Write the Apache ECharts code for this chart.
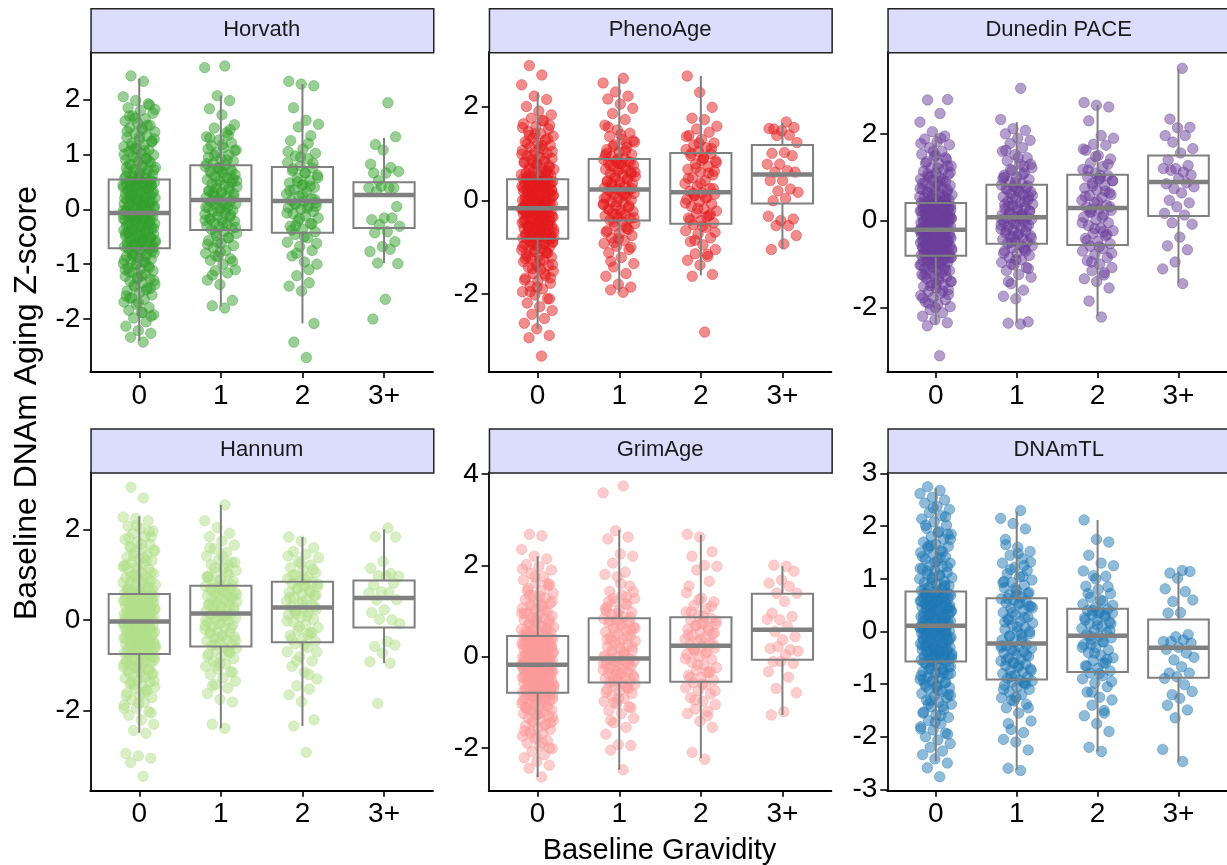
<!DOCTYPE html>
<html><head><meta charset="utf-8">
<script src="https://cdn.jsdelivr.net/npm/echarts@6/dist/echarts.min.js"></script>
<style>html,body{margin:0;padding:0;background:#fff}#c{width:1227px;height:865px}</style>
</head><body><div id="c"></div>
<script>
// ---------------- DATA ----------------
const categories = ['0', '1', '2', '3+'];
const facetNames = ['Horvath', 'PhenoAge', 'Dunedin PACE', 'Hannum', 'GrimAge', 'DNAmTL'];
const facetColors = ['#33a02c', '#e31a1c', '#6a3d9a', '#b2df8a', '#fb9a99', '#1f78b4'];
const xTitle = 'Baseline Gravidity';
const yTitle = 'Baseline DNAm Aging Z-score';
const yTicks = [[-2,-1,0,1,2],[-2,0,2],[-2,0,2],[-2,0,2],[-2,0,2,4],[-3,-2,-1,0,1,2,3]];
const yLimits = [[-2.965,2.865],[-3.66,3.16],[-3.485,3.885],[-3.77,3.27],[-2.94,4.04],[-3.025,3.025]];

// box stats per group: [lower whisker, Q1, median, Q3, upper whisker]
const horvathBox = [[-2.40,-0.71,-0.07,0.54,2.38],[-1.77,-0.38,0.17,0.80,2.07],[-2.08,-0.43,0.15,0.77,2.28],[-0.98,-0.34,0.26,0.49,1.30]];
const phenoBox   = [[-2.74,-0.82,-0.17,0.45,2.30],[-1.96,-0.43,0.23,0.88,2.60],[-1.60,-0.50,0.17,1.01,2.65],[-1.04,-0.07,0.55,1.18,1.65]];
const dunedinBox = [[-2.39,-0.81,-0.21,0.41,2.00],[-2.35,-0.53,0.08,0.83,2.27],[-2.20,-0.56,0.29,1.06,2.66],[-1.44,0.11,0.89,1.50,3.49]];
const hannumBox  = [[-2.49,-0.75,-0.03,0.58,2.30],[-2.39,-0.58,0.15,0.76,2.55],[-2.34,-0.49,0.28,0.85,1.84],[-0.95,-0.16,0.49,0.88,2.01]];
const grimBox    = [[-2.64,-0.79,-0.18,0.45,2.20],[-2.48,-0.57,-0.04,0.84,2.78],[-2.23,-0.55,0.24,0.86,2.67],[-1.28,-0.07,0.59,1.38,1.98]];
const dnamtlBox  = [[-2.47,-0.57,0.11,0.76,2.73],[-2.63,-0.91,-0.23,0.63,2.28],[-2.28,-0.77,-0.08,0.43,2.12],[-2.47,-0.88,-0.31,0.23,1.14]];

// Horvath points
const horvath0 = [-2.42,-2.33,-2.26,-2.21,-2.13,-2.05,-1.98,-1.92,-1.88,-1.84,-1.79,-1.73,-1.69,-1.64,-1.61,-1.56,-1.52,-1.49,-1.44,-1.41,-1.37,-1.34,-1.31,-1.27,-1.24,-1.22,-1.18,-1.15,-1.12,-1.09,-1.07,-1.04,-1.01,-0.99,-0.96,-0.94,-0.91,-0.88,-0.86,-0.84,-0.81,-0.79,-0.77,-0.74,-0.72,
 -0.7,-0.68,-0.67,-0.65,-0.64,-0.62,-0.61,-0.59,-0.58,-0.57,-0.55,-0.54,-0.52,-0.51,-0.49,-0.48,-0.46,-0.45,-0.43,-0.42,-0.41,-0.39,-0.38,-0.36,-0.35,-0.33,-0.32,-0.3,-0.29,-0.27,-0.26,-0.24,-0.23,-0.21,-0.2,-0.19,-0.17,-0.16,-0.14,-0.13,-0.12,-0.11,-0.1,-0.09,-0.08,
 -0.06,-0.05,-0.03,-0.02,0,0.01,0.03,0.04,0.06,0.07,0.08,0.1,0.11,0.13,0.14,0.16,0.17,0.18,0.2,0.21,0.23,0.24,0.26,0.27,0.28,0.3,0.31,0.33,0.34,0.35,0.37,0.38,0.4,0.41,0.42,0.44,0.45,0.46,0.47,0.48,0.49,0.5,0.51,0.52,0.53,
 0.56,0.58,0.61,0.63,0.66,0.68,0.71,0.73,0.76,0.79,0.81,0.84,0.87,0.9,0.93,0.96,0.99,1.02,1.05,1.08,1.11,1.14,1.17,1.2,1.24,1.27,1.31,1.34,1.38,1.41,1.45,1.49,1.53,1.57,1.61,1.65,1.7,1.75,1.8,1.85,1.92,1.98,2.05,2.33,2.43];
const horvath0b = [-1.95,-1.71,-1.58,-1.47,-1.38,-1.3,-1.21,-1.14,-1.06,-0.99,-0.93,-0.87,-0.82,-0.76,-0.73,-0.69,-0.66,-0.63,-0.6,-0.56,-0.53,-0.5,-0.47,-0.44,-0.4,-0.37,-0.34,-0.31,-0.28,-0.25,-0.22,-0.18,-0.15,-0.12,-0.09,-0.06,-0.04,-0.01,0.02,0.05,0.08,0.11,0.14,0.17,0.2,0.23,0.26,0.29,0.32,0.35,0.38,0.41,0.44,0.47,0.5,0.53,0.57,0.6,0.64,0.68,0.72,0.77,0.82,0.88,0.94,1.0,1.07,1.15,1.23,1.32,1.42,1.53,1.66,1.82,
 -1.88,-1.62,-1.44,-1.26,-1.1,-0.97,-0.85,-0.7,-0.58,-0.43,-0.29,-0.16,-0.02,0.12,0.27,0.43,0.59,0.75,0.92,1.1,1.28,1.48,1.7,1.9];
const horvath1 = [-1.8,-1.76,-1.66,-1.37,-1.29,-1.16,-1.12,-1.1,-1.0,-0.93,-0.9,-0.86,-0.8,-0.75,-0.7,-0.66,-0.62,-0.57,-0.52,-0.48,-0.44,-0.4,
 -0.37,-0.35,-0.32,-0.3,-0.27,-0.25,-0.22,-0.2,-0.17,-0.14,-0.12,-0.09,-0.07,-0.04,-0.02,0.01,0.03,0.05,0.08,0.1,0.12,0.14,0.16,
 0.18,0.21,0.23,0.26,0.28,0.31,0.33,0.36,0.38,0.41,0.44,0.46,0.49,0.52,0.54,0.57,0.6,0.63,0.66,0.69,0.72,0.75,0.78,
 0.81,0.84,0.88,0.92,0.95,0.99,1.03,1.08,1.12,1.16,1.21,1.26,1.32,1.4,1.48,1.54,1.72,1.83,1.98,2.07,2.58,2.61];
const horvath1b = [-1.2,-0.95,-0.78,-0.64,-0.52,-0.42,-0.33,-0.25,-0.18,-0.1,-0.03,0.04,0.1,0.16,0.22,0.28,0.34,0.4,0.46,0.52,0.58,0.64,0.7,0.76,0.83,0.9,0.98,1.07,1.18,1.3,1.45,-0.6,-0.2,0.0,0.3,0.55,0.72,1.1,1.35,-0.85];
const horvath2 = [-2.7,-2.42,-2.08,-1.49,-1.4,-1.34,-1.21,-1.0,-0.96,-0.85,-0.75,-0.68,-0.6,-0.52,-0.46,
 -0.41,-0.36,-0.31,-0.26,-0.21,-0.16,-0.12,-0.08,-0.04,0,0.03,0.06,0.09,0.12,0.14,
 0.16,0.2,0.24,0.28,0.32,0.36,0.4,0.44,0.48,0.52,0.57,0.62,0.66,0.7,0.75,
 0.79,0.85,0.92,0.97,1.02,1.1,1.25,1.34,1.5,1.55,1.62,1.85,2.25,2.28,2.33];
const horvath2b = [-1.1,-0.8,-0.62,-0.5,-0.38,-0.27,-0.17,-0.07,0.02,0.1,0.18,0.26,0.34,0.42,0.5,0.58,0.66,0.74,0.84,0.95,1.05,1.2,-0.3,0.05,0.45];
const horvath3 = [1.94,1.18,1.32,1.08,0.82,0.76,0.52,0.69,0.66,0.66,0.39,0.42,0.39,0.39,0.33,0.05,-0.16,-0.19,-0.16,-0.28,-0.31,-0.41,-0.43,-0.59,-0.68,-0.77,-0.73,-0.98,-0.99,-1.64,-2.0];

// PhenoAge points
const pheno0 = [-3.32,-2.93,-2.88,-2.74,-2.62,-2.52,-2.43,-2.35,-2.27,-2.19,-2.1,-2.02,-1.95,-1.89,-1.83,-1.77,-1.71,-1.66,-1.61,-1.56,-1.51,-1.47,-1.43,-1.39,-1.35,-1.31,-1.27,-1.24,-1.21,-1.18,-1.15,-1.12,-1.09,-1.06,-1.04,-1.01,-0.99,-0.96,-0.94,-0.92,-0.9,-0.88,-0.86,-0.84,-0.83,
 -0.81,-0.8,-0.78,-0.77,-0.75,-0.74,-0.72,-0.71,-0.69,-0.68,-0.66,-0.65,-0.63,-0.62,-0.6,-0.59,-0.57,-0.56,-0.54,-0.53,-0.51,-0.5,-0.48,-0.47,-0.45,-0.44,-0.42,-0.41,-0.39,-0.38,-0.36,-0.35,-0.33,-0.32,-0.3,-0.29,-0.27,-0.26,-0.24,-0.23,-0.22,-0.21,-0.2,-0.19,-0.18,
 -0.16,-0.15,-0.13,-0.12,-0.1,-0.09,-0.08,-0.06,-0.05,-0.03,-0.02,0,0.01,0.03,0.04,0.05,0.07,0.08,0.1,0.11,0.13,0.14,0.15,0.17,0.18,0.2,0.21,0.22,0.24,0.25,0.27,0.28,0.3,0.31,0.32,0.34,0.35,0.36,0.38,0.39,0.4,0.41,0.42,0.43,0.44,
 0.46,0.48,0.5,0.53,0.55,0.58,0.6,0.63,0.66,0.68,0.71,0.74,0.77,0.8,0.83,0.86,0.89,0.92,0.95,0.99,1.02,1.06,1.09,1.13,1.17,1.21,1.25,1.29,1.33,1.37,1.42,1.47,1.52,1.57,1.63,1.69,1.75,1.82,1.9,2.0,2.15,2.22,2.46,2.67,2.87];
const pheno0b = [-2.1,-1.85,-1.7,-1.57,-1.46,-1.37,-1.28,-1.2,-1.12,-1.05,-0.99,-0.93,-0.88,-0.82,-0.78,-0.74,-0.7,-0.66,-0.62,-0.59,-0.55,-0.52,-0.48,-0.45,-0.41,-0.38,-0.34,-0.31,-0.27,-0.24,-0.2,-0.17,-0.14,-0.11,-0.07,-0.04,-0.01,0.02,0.06,0.09,0.12,0.16,0.19,0.23,0.26,0.29,0.33,0.36,0.4,0.43,0.47,0.51,0.55,0.6,0.65,0.7,0.76,0.82,0.89,0.96,1.04,1.12,1.21,1.31,1.42,1.55,1.7,
 -1.95,-1.65,-1.42,-1.24,-1.08,-0.95,-0.8,-0.68,-0.57,-0.43,-0.3,-0.18,-0.05,0.08,0.21,0.35,0.49,0.63,0.8,0.98,1.17,1.38,1.6,-0.6,-0.25,0.15,0.3,-0.9,-0.45,0.0,0.55];
const pheno1 = [-1.96,-1.91,-1.85,-1.79,-1.62,-1.56,-1.42,-1.35,-1.22,-1.12,-1.05,-0.98,-0.92,-0.86,-0.8,-0.75,-0.7,-0.65,-0.6,-0.55,-0.5,-0.46,
 -0.42,-0.39,-0.36,-0.33,-0.3,-0.27,-0.24,-0.21,-0.18,-0.15,-0.12,-0.09,-0.06,-0.03,0,0.03,0.06,0.09,0.12,0.15,0.18,0.2,0.22,
 0.24,0.27,0.3,0.33,0.36,0.39,0.42,0.45,0.48,0.51,0.54,0.57,0.6,0.63,0.66,0.69,0.72,0.75,0.78,0.8,0.82,0.84,0.87,
 0.9,0.94,0.98,1.03,1.08,1.13,1.18,1.24,1.3,1.36,1.43,1.5,1.6,1.72,1.85,1.96,2.05,2.16,2.22,2.31,2.5,2.6];
const pheno1b = [-1.3,-1.0,-0.82,-0.68,-0.56,-0.46,-0.37,-0.28,-0.2,-0.12,-0.04,0.04,0.11,0.18,0.25,0.32,0.39,0.46,0.53,0.6,0.67,0.74,0.81,0.88,0.96,1.05,1.15,1.27,1.4,1.56,-0.62,-0.3,-0.08,0.14,0.36,0.57,0.78,1.0,1.2,-0.9];
const pheno2 = [-2.81,-1.62,-1.58,-1.38,-1.28,-1.2,-1.14,-1.05,-0.95,-0.88,-0.8,-0.72,-0.65,-0.58,-0.52,
 -0.48,-0.43,-0.38,-0.33,-0.28,-0.23,-0.18,-0.13,-0.08,-0.03,0.02,0.06,0.1,0.13,0.16,
 0.19,0.25,0.3,0.36,0.42,0.48,0.54,0.6,0.66,0.72,0.78,0.84,0.9,0.95,0.99,
 1.04,1.08,1.12,1.18,1.22,1.3,1.38,1.45,1.52,1.58,1.72,1.75,1.98,2.3,2.65];
const pheno2b = [-1.15,-0.85,-0.68,-0.55,-0.42,-0.3,-0.18,-0.06,0.05,0.15,0.25,0.36,0.47,0.58,0.69,0.8,0.9,1.0,1.1,1.22,1.36,-0.35,0.1,0.62,0.85];
const pheno3 = [1.67,1.52,1.55,1.48,1.53,1.39,1.38,1.23,1.02,1.0,0.95,0.77,0.77,0.63,0.6,0.6,0.42,0.42,0.24,0.2,0.17,0.04,-0.01,-0.4,-0.43,-0.34,-0.54,-0.54,-0.75,-0.93,-1.05];

// Dunedin PACE points
const dunedin0 = [-3.11,-2.42,-2.35,-2.28,-2.2,-2.12,-2.05,-1.98,-1.92,-1.87,-1.82,-1.77,-1.72,-1.67,-1.63,-1.59,-1.55,-1.51,-1.47,-1.43,-1.4,-1.36,-1.33,-1.3,-1.27,-1.24,-1.21,-1.18,-1.15,-1.13,-1.1,-1.07,-1.05,-1.02,-1.0,-0.98,-0.96,-0.94,-0.92,-0.9,-0.88,-0.86,-0.85,-0.83,-0.82,
 -0.8,-0.79,-0.77,-0.76,-0.75,-0.73,-0.72,-0.71,-0.69,-0.68,-0.67,-0.65,-0.64,-0.63,-0.61,-0.6,-0.59,-0.57,-0.56,-0.55,-0.53,-0.52,-0.51,-0.49,-0.48,-0.47,-0.45,-0.44,-0.43,-0.41,-0.4,-0.39,-0.37,-0.36,-0.35,-0.33,-0.32,-0.31,-0.29,-0.28,-0.27,-0.26,-0.25,-0.23,-0.22,
 -0.2,-0.19,-0.17,-0.16,-0.15,-0.13,-0.12,-0.11,-0.09,-0.08,-0.07,-0.05,-0.04,-0.03,-0.01,0,0.01,0.03,0.04,0.05,0.07,0.08,0.09,0.11,0.12,0.13,0.15,0.16,0.17,0.19,0.2,0.21,0.23,0.24,0.25,0.27,0.28,0.3,0.31,0.33,0.34,0.36,0.37,0.39,0.4,
 0.42,0.44,0.46,0.48,0.5,0.53,0.55,0.57,0.6,0.62,0.65,0.67,0.7,0.72,0.75,0.78,0.81,0.84,0.87,0.9,0.93,0.96,0.99,1.02,1.06,1.1,1.14,1.18,1.22,1.26,1.31,1.36,1.41,1.47,1.53,1.6,1.68,1.75,1.82,1.88,1.95,2.05,2.27,2.47,2.78,2.79];
const dunedin0b = [-2.0,-1.78,-1.62,-1.5,-1.4,-1.31,-1.23,-1.15,-1.08,-1.02,-0.96,-0.9,-0.85,-0.8,-0.76,-0.72,-0.68,-0.64,-0.6,-0.57,-0.53,-0.5,-0.46,-0.43,-0.39,-0.36,-0.32,-0.29,-0.25,-0.22,-0.19,-0.16,-0.13,-0.1,-0.06,-0.03,0.0,0.03,0.06,0.1,0.13,0.16,0.2,0.23,0.27,0.3,0.34,0.38,0.42,0.46,0.5,0.55,0.6,0.66,0.72,0.79,0.86,0.94,1.02,1.11,1.21,1.32,1.45,1.6,1.78,1.9,
 -1.9,-1.7,-1.45,-1.27,-1.12,-0.98,-0.84,-0.7,-0.59,-0.48,-0.37,-0.26,-0.15,-0.04,0.08,0.19,0.31,0.44,0.58,0.74,0.9,1.08,1.26,1.5,-0.62,-0.3,0.05,0.25,-0.95,-0.41,0.52,-0.12];
const dunedin1 = [-2.38,-2.36,-2.33,-1.8,-1.74,-1.6,-1.45,-1.3,-1.24,-1.15,-1.08,-1.02,-0.96,-0.9,-0.85,-0.8,-0.75,-0.7,-0.66,-0.62,-0.58,-0.55,
 -0.52,-0.49,-0.46,-0.43,-0.4,-0.37,-0.34,-0.31,-0.28,-0.25,-0.22,-0.19,-0.16,-0.13,-0.1,-0.07,-0.04,-0.01,0.01,0.03,0.05,0.06,0.07,
 0.1,0.13,0.16,0.19,0.22,0.25,0.28,0.31,0.35,0.38,0.41,0.45,0.48,0.52,0.55,0.59,0.62,0.66,0.69,0.73,0.76,0.79,0.82,
 0.86,0.9,0.95,1.0,1.05,1.1,1.15,1.22,1.3,1.38,1.45,1.52,1.6,1.68,1.78,1.85,1.9,2.0,2.08,2.12,2.33,3.05];
const dunedin1b = [-1.4,-1.1,-0.9,-0.75,-0.62,-0.5,-0.4,-0.31,-0.22,-0.14,-0.06,0.02,0.09,0.16,0.23,0.3,0.37,0.44,0.51,0.58,0.65,0.72,0.8,0.88,0.97,1.07,1.18,1.3,1.45,1.62,-0.7,-0.36,-0.1,0.12,0.33,0.55,0.76,1.0,1.25,-1.0];
const dunedin2 = [-2.22,-1.85,-1.55,-1.4,-1.34,-1.2,-1.15,-1.08,-1.0,-0.92,-0.85,-0.78,-0.7,-0.64,-0.59,
 -0.53,-0.47,-0.41,-0.35,-0.29,-0.23,-0.17,-0.11,-0.05,0.02,0.08,0.14,0.2,0.24,0.27,
 0.31,0.36,0.42,0.47,0.53,0.58,0.64,0.7,0.75,0.81,0.86,0.92,0.97,1.01,1.04,
 1.1,1.18,1.25,1.33,1.42,1.5,1.62,1.74,1.76,1.9,1.96,2.3,2.62,2.66,2.72];
const dunedin2b = [-1.25,-0.95,-0.75,-0.6,-0.46,-0.32,-0.18,-0.05,0.08,0.2,0.32,0.44,0.56,0.68,0.8,0.92,1.04,1.16,1.3,1.48,1.65,-0.25,0.26,0.6,0.95];
const dunedin3 = [3.51,2.34,2.15,2.14,1.96,1.96,1.81,1.66,1.56,1.4,1.27,1.2,1.2,1.12,1.16,1.05,0.97,0.85,0.87,0.74,0.78,0.64,0.47,0.41,0.32,0.17,0.13,-0.05,-0.08,-0.38,-0.58,-0.67,-0.95,-1.11,-1.45];

// Hannum points
const hannum0 = [-3.45,-3.15,-3.05,-3.0,-2.95,-2.5,-2.44,-2.3,-2.2,-2.1,-2.02,-1.95,-1.88,-1.82,-1.76,-1.71,-1.66,-1.61,-1.57,-1.52,-1.48,-1.44,-1.4,-1.36,-1.32,-1.28,-1.25,-1.21,-1.18,-1.15,-1.12,-1.09,-1.06,-1.03,-1.0,-0.98,-0.95,-0.93,-0.9,-0.88,-0.86,-0.83,-0.81,-0.79,-0.77,
 -0.74,-0.72,-0.71,-0.69,-0.68,-0.66,-0.64,-0.63,-0.61,-0.6,-0.58,-0.56,-0.55,-0.53,-0.52,-0.5,-0.48,-0.47,-0.45,-0.44,-0.42,-0.4,-0.39,-0.37,-0.36,-0.34,-0.32,-0.31,-0.29,-0.28,-0.26,-0.24,-0.23,-0.21,-0.2,-0.18,-0.16,-0.15,-0.13,-0.12,-0.1,-0.08,-0.07,-0.05,-0.04,
 -0.02,-0.01,0.01,0.02,0.04,0.05,0.07,0.08,0.09,0.11,0.12,0.14,0.15,0.16,0.18,0.19,0.21,0.22,0.23,0.25,0.26,0.28,0.29,0.3,0.32,0.33,0.35,0.36,0.37,0.39,0.4,0.42,0.43,0.44,0.46,0.47,0.49,0.5,0.51,0.52,0.53,0.54,0.55,0.56,0.57,
 0.6,0.62,0.64,0.67,0.69,0.72,0.74,0.77,0.79,0.82,0.85,0.88,0.91,0.94,0.97,1.0,1.03,1.06,1.1,1.13,1.17,1.2,1.24,1.28,1.32,1.36,1.4,1.44,1.49,1.53,1.58,1.63,1.68,1.73,1.79,1.85,1.91,1.97,2.03,2.08,2.2,2.25,2.28,2.7,2.94];
const hannum0b = [-2.05,-1.83,-1.67,-1.54,-1.43,-1.34,-1.25,-1.17,-1.1,-1.03,-0.97,-0.91,-0.86,-0.81,-0.76,-0.72,-0.68,-0.64,-0.6,-0.56,-0.52,-0.48,-0.44,-0.4,-0.36,-0.32,-0.28,-0.24,-0.2,-0.16,-0.12,-0.08,-0.04,0.0,0.04,0.08,0.12,0.16,0.2,0.24,0.28,0.32,0.36,0.4,0.44,0.48,0.52,0.56,0.61,0.66,0.71,0.77,0.83,0.9,0.97,1.05,1.13,1.22,1.32,1.43,1.55,1.68,1.82,1.96,2.1,
 -1.95,-1.6,-1.38,-1.2,-1.05,-0.92,-0.78,-0.65,-0.53,-0.42,-0.3,-0.18,-0.06,0.06,0.18,0.3,0.42,0.54,0.68,0.84,1.0,1.18,1.38,1.6,1.85,-0.58,-0.22,0.1,0.35,-0.88,-0.45,0.62,-0.15];
const hannum1 = [-2.39,-2.3,-1.81,-1.75,-1.62,-1.5,-1.42,-1.35,-1.28,-1.2,-1.14,-1.08,-1.02,-0.96,-0.9,-0.85,-0.8,-0.75,-0.7,-0.66,-0.62,-0.59,
 -0.56,-0.53,-0.5,-0.46,-0.43,-0.4,-0.37,-0.33,-0.3,-0.27,-0.24,-0.2,-0.17,-0.14,-0.11,-0.08,-0.04,-0.01,0.02,0.05,0.08,0.11,0.14,
 0.17,0.2,0.22,0.25,0.28,0.3,0.33,0.36,0.38,0.41,0.44,0.46,0.49,0.52,0.54,0.57,0.6,0.62,0.65,0.68,0.7,0.73,0.75,
 0.78,0.82,0.86,0.9,0.95,1.0,1.05,1.1,1.16,1.22,1.28,1.35,1.42,1.5,1.58,1.66,1.75,1.85,1.92,2.05,2.2,2.55];
const hannum1b = [-1.45,-1.15,-0.95,-0.8,-0.67,-0.55,-0.45,-0.35,-0.26,-0.17,-0.08,0.0,0.08,0.15,0.22,0.29,0.36,0.43,0.5,0.57,0.64,0.71,0.78,0.86,0.95,1.05,1.16,1.28,1.42,1.6,-0.72,-0.38,-0.12,0.11,0.33,0.54,0.74,0.98,1.22,-1.0];
const hannum2 = [-2.92,-2.34,-2.2,-1.8,-1.65,-1.52,-1.45,-1.3,-1.15,-1.02,-0.9,-0.8,-0.7,-0.6,-0.52,
 -0.46,-0.4,-0.34,-0.28,-0.22,-0.16,-0.1,-0.04,0.02,0.07,0.12,0.17,0.21,0.24,0.27,
 0.3,0.34,0.38,0.42,0.46,0.5,0.54,0.58,0.62,0.66,0.7,0.74,0.78,0.81,0.84,
 0.88,0.92,0.96,1.0,1.05,1.1,1.16,1.22,1.3,1.38,1.46,1.52,1.6,1.75,1.84];
const hannum2b = [-1.2,-0.9,-0.7,-0.55,-0.42,-0.28,-0.15,-0.02,0.1,0.2,0.3,0.4,0.5,0.6,0.7,0.8,0.9,1.0,1.12,1.26,1.42,-0.32,0.15,0.55,0.76];
const hannum3 = [2.04,1.85,1.84,1.30,1.15,1.03,0.98,0.97,0.97,0.78,0.82,0.63,0.6,0.61,0.45,0.45,0.23,0.17,0.01,0.02,-0.08,-0.47,-0.58,-0.55,-0.73,-0.92,-0.95,-1.84];

// GrimAge points
const grim0 = [-2.64,-2.45,-2.38,-2.3,-2.22,-2.15,-2.08,-2.02,-1.96,-1.9,-1.84,-1.79,-1.74,-1.69,-1.64,-1.6,-1.56,-1.52,-1.48,-1.44,-1.41,-1.37,-1.34,-1.31,-1.28,-1.25,-1.22,-1.19,-1.16,-1.14,-1.11,-1.08,-1.06,-1.03,-1.01,-0.99,-0.96,-0.94,-0.92,-0.9,-0.88,-0.86,-0.84,-0.82,-0.8,
 -0.78,-0.77,-0.75,-0.74,-0.72,-0.71,-0.69,-0.68,-0.67,-0.65,-0.64,-0.62,-0.61,-0.59,-0.58,-0.56,-0.55,-0.53,-0.52,-0.5,-0.49,-0.47,-0.46,-0.45,-0.43,-0.42,-0.4,-0.39,-0.37,-0.36,-0.34,-0.33,-0.31,-0.3,-0.28,-0.27,-0.26,-0.25,-0.24,-0.23,-0.22,-0.21,-0.2,-0.19,-0.19,
 -0.17,-0.15,-0.14,-0.12,-0.11,-0.1,-0.08,-0.07,-0.05,-0.04,-0.02,-0.01,0.01,0.02,0.03,0.05,0.06,0.08,0.09,0.1,0.12,0.13,0.15,0.16,0.17,0.19,0.2,0.22,0.23,0.24,0.26,0.27,0.29,0.3,0.31,0.33,0.34,0.35,0.37,0.38,0.39,0.4,0.42,0.43,0.44,
 0.46,0.48,0.5,0.53,0.55,0.57,0.6,0.62,0.65,0.68,0.71,0.74,0.77,0.8,0.83,0.86,0.89,0.92,0.95,0.99,1.02,1.06,1.09,1.13,1.17,1.21,1.25,1.29,1.34,1.39,1.44,1.49,1.55,1.61,1.68,1.75,1.82,1.9,1.97,2.02,2.14,2.2,2.35,2.65,2.68];
const grim0b = [-2.0,-1.78,-1.63,-1.51,-1.41,-1.32,-1.24,-1.16,-1.09,-1.03,-0.97,-0.91,-0.86,-0.81,-0.77,-0.73,-0.69,-0.65,-0.61,-0.58,-0.54,-0.51,-0.47,-0.44,-0.4,-0.37,-0.33,-0.3,-0.26,-0.23,-0.2,-0.17,-0.14,-0.1,-0.07,-0.04,-0.01,0.02,0.06,0.09,0.12,0.16,0.19,0.23,0.26,0.3,0.34,0.38,0.42,0.46,0.5,0.55,0.6,0.66,0.72,0.79,0.86,0.94,1.02,1.11,1.21,1.32,1.45,1.6,1.75,1.92,
 -1.9,-1.68,-1.45,-1.27,-1.12,-0.98,-0.84,-0.71,-0.59,-0.47,-0.35,-0.24,-0.12,-0.01,0.1,0.22,0.35,0.48,0.62,0.78,0.95,1.14,1.35,1.58,-0.62,-0.28,0.05,0.32,-0.93,-0.42,0.54,-0.15];
const grim1 = [-2.48,-2.05,-1.95,-1.93,-1.7,-1.55,-1.45,-1.35,-1.25,-1.18,-1.1,-1.04,-0.98,-0.92,-0.86,-0.81,-0.76,-0.72,-0.68,-0.64,-0.61,-0.58,
 -0.56,-0.54,-0.51,-0.49,-0.46,-0.44,-0.41,-0.39,-0.36,-0.34,-0.31,-0.29,-0.26,-0.24,-0.21,-0.19,-0.16,-0.14,-0.11,-0.09,-0.07,-0.06,-0.05,
 -0.02,0.02,0.06,0.1,0.14,0.18,0.22,0.26,0.3,0.34,0.38,0.42,0.46,0.5,0.54,0.58,0.62,0.66,0.7,0.74,0.77,0.8,0.83,
 0.87,0.92,0.97,1.02,1.08,1.14,1.2,1.27,1.35,1.43,1.55,1.75,1.8,1.85,2.05,2.2,2.25,2.58,2.62,2.76,3.59,3.74];
const grim1b = [-1.4,-1.12,-0.92,-0.78,-0.66,-0.55,-0.45,-0.36,-0.27,-0.18,-0.1,-0.02,0.06,0.14,0.22,0.3,0.38,0.46,0.54,0.62,0.7,0.78,0.86,0.95,1.05,1.16,1.28,1.42,1.6,1.2,-0.7,-0.38,-0.15,0.1,0.35,0.58,0.8,1.0,1.3,-1.0];
const grim2 = [-2.25,-2.1,-1.55,-1.42,-1.25,-1.2,-1.15,-1.05,-0.98,-0.9,-0.82,-0.75,-0.68,-0.62,-0.57,
 -0.52,-0.46,-0.41,-0.35,-0.3,-0.24,-0.18,-0.12,-0.06,0,0.05,0.1,0.15,0.19,0.22,
 0.26,0.3,0.34,0.38,0.42,0.46,0.5,0.55,0.6,0.64,0.68,0.72,0.76,0.8,0.84,
 0.9,0.98,1.05,1.12,1.2,1.28,1.55,1.65,1.9,1.98,2.0,2.2,2.3,2.62,2.68];
const grim2b = [-1.3,-0.95,-0.75,-0.6,-0.46,-0.32,-0.18,-0.05,0.07,0.18,0.28,0.38,0.48,0.58,0.68,0.78,0.88,0.98,1.1,1.25,1.4,-0.35,0.12,0.52,0.72];
const grim3 = [1.98,2.0,1.87,1.68,1.61,1.54,1.39,1.39,1.21,0.95,0.88,0.81,0.82,0.66,0.55,0.44,0.37,0.18,0.15,0.22,0.12,0.04,-0.11,-0.15,-0.11,-0.33,-0.45,-0.7,-0.79,-1.21,-1.28];

// DNAmTL points
const dnamtl0 = [-2.76,-2.59,-2.5,-2.42,-2.34,-2.27,-2.2,-2.13,-2.06,-2.0,-1.93,-1.87,-1.81,-1.75,-1.69,-1.63,-1.58,-1.53,-1.48,-1.43,-1.38,-1.34,-1.3,-1.26,-1.22,-1.18,-1.14,-1.1,-1.07,-1.03,-1.0,-0.97,-0.94,-0.91,-0.88,-0.85,-0.82,-0.79,-0.76,-0.73,-0.7,-0.67,-0.64,-0.61,-0.58,
 -0.56,-0.54,-0.53,-0.51,-0.5,-0.48,-0.47,-0.45,-0.44,-0.42,-0.41,-0.39,-0.38,-0.36,-0.35,-0.33,-0.32,-0.3,-0.29,-0.27,-0.26,-0.24,-0.23,-0.21,-0.2,-0.18,-0.17,-0.15,-0.14,-0.12,-0.11,-0.09,-0.08,-0.06,-0.05,-0.03,-0.02,0,0.01,0.03,0.04,0.06,0.07,0.08,0.1,
 0.12,0.13,0.15,0.16,0.18,0.19,0.2,0.22,0.23,0.25,0.26,0.28,0.29,0.3,0.32,0.33,0.35,0.36,0.38,0.39,0.4,0.42,0.43,0.45,0.46,0.48,0.49,0.5,0.52,0.53,0.55,0.56,0.58,0.59,0.6,0.62,0.63,0.65,0.66,0.68,0.69,0.7,0.72,0.73,0.75,
 0.78,0.81,0.84,0.87,0.9,0.93,0.96,0.99,1.02,1.06,1.09,1.12,1.16,1.19,1.23,1.26,1.3,1.34,1.38,1.42,1.46,1.5,1.54,1.58,1.62,1.66,1.7,1.75,1.8,1.85,1.9,1.96,2.02,2.08,2.14,2.2,2.26,2.32,2.38,2.44,2.5,2.55,2.62,2.68,2.75];
const dnamtl0b = [-1.95,-1.72,-1.55,-1.42,-1.31,-1.21,-1.12,-1.04,-0.97,-0.9,-0.84,-0.78,-0.72,-0.67,-0.62,-0.58,-0.54,-0.5,-0.46,-0.42,-0.38,-0.34,-0.3,-0.26,-0.22,-0.18,-0.14,-0.1,-0.06,-0.02,0.02,0.06,0.1,0.14,0.18,0.22,0.26,0.3,0.34,0.38,0.42,0.46,0.5,0.54,0.58,0.62,0.66,0.71,0.76,0.81,0.87,0.93,1.0,1.07,1.15,1.23,1.32,1.42,1.52,1.63,1.75,1.88,2.02,2.18,2.35,
 -1.85,-1.6,-1.38,-1.2,-1.05,-0.92,-0.78,-0.64,-0.51,-0.39,-0.27,-0.15,-0.03,0.09,0.21,0.33,0.45,0.58,0.72,0.87,1.03,1.2,1.4,1.62,1.85,-0.48,-0.12,0.2,0.48,-0.8,-0.35,0.66,0.04];
const dnamtl1 = [-2.64,-2.6,-2.25,-2.1,-2.05,-1.92,-1.86,-1.7,-1.55,-1.45,-1.38,-1.32,-1.26,-1.2,-1.15,-1.1,-1.06,-1.02,-0.99,-0.96,-0.94,-0.92,
 -0.89,-0.86,-0.83,-0.8,-0.77,-0.74,-0.71,-0.68,-0.65,-0.62,-0.59,-0.56,-0.53,-0.5,-0.47,-0.44,-0.41,-0.38,-0.35,-0.32,-0.29,-0.27,-0.25,
 -0.2,-0.16,-0.12,-0.08,-0.04,0,0.04,0.08,0.12,0.16,0.2,0.24,0.28,0.32,0.36,0.4,0.44,0.48,0.52,0.55,0.58,0.6,0.62,
 0.66,0.7,0.74,0.78,0.83,0.88,0.93,0.98,1.04,1.1,1.16,1.22,1.3,1.38,1.45,1.52,1.6,1.75,1.95,2.05,2.15,2.3];
const dnamtl1b = [-1.75,-1.45,-1.25,-1.1,-0.97,-0.85,-0.74,-0.64,-0.54,-0.45,-0.36,-0.27,-0.18,-0.09,0.0,0.09,0.18,0.27,0.36,0.45,0.54,0.63,0.72,0.82,0.93,1.05,1.18,1.32,1.48,1.65,-1.0,-0.6,-0.3,-0.05,0.22,0.48,0.7,0.95,1.25,-1.3];
const dnamtl2 = [-2.28,-2.2,-1.9,-1.75,-1.6,-1.55,-1.4,-1.3,-1.25,-1.15,-1.05,-0.98,-0.9,-0.84,-0.79,
 -0.75,-0.7,-0.65,-0.6,-0.55,-0.5,-0.45,-0.4,-0.35,-0.3,-0.25,-0.2,-0.15,-0.12,-0.09,
 -0.06,-0.02,0.02,0.06,0.1,0.14,0.18,0.22,0.26,0.29,0.32,0.35,0.38,0.4,0.42,
 0.46,0.52,0.58,0.65,0.72,0.8,0.86,1.05,1.06,1.25,1.3,1.45,1.7,1.75,2.12];
const dnamtl2b = [-1.5,-1.15,-0.95,-0.8,-0.66,-0.53,-0.41,-0.3,-0.19,-0.08,0.02,0.12,0.22,0.31,0.4,0.5,0.6,0.72,0.85,1.0,1.15,-0.6,-0.25,0.15,0.35];
const dnamtl3 = [1.16,1.11,1.14,1.01,0.81,0.76,0.57,0.6,0.36,0.35,-0.06,-0.1,-0.19,-0.16,-0.19,-0.22,-0.3,-0.34,-0.41,-0.54,-0.49,-0.67,-0.79,-0.79,-0.86,-0.89,-1.01,-1.2,-1.14,-1.27,-1.4,-1.49,-1.64,-2.24,-2.47];

// ---------------- ASSEMBLY ----------------
const facetPoints = [
  [horvath0.concat(horvath0b), horvath1.concat(horvath1b), horvath2.concat(horvath2b), horvath3],
  [pheno0.concat(pheno0b), pheno1.concat(pheno1b), pheno2.concat(pheno2b), pheno3],
  [dunedin0.concat(dunedin0b), dunedin1.concat(dunedin1b), dunedin2.concat(dunedin2b), dunedin3],
  [hannum0.concat(hannum0b), hannum1.concat(hannum1b), hannum2.concat(hannum2b), hannum3],
  [grim0.concat(grim0b), grim1.concat(grim1b), grim2.concat(grim2b), grim3],
  [dnamtl0.concat(dnamtl0b), dnamtl1.concat(dnamtl1b), dnamtl2.concat(dnamtl2b), dnamtl3]
];
const facetBoxes = [horvathBox, phenoBox, dunedinBox, hannumBox, grimBox, dnamtlBox];

const FONT = "'Liberation Sans', Arial, Helvetica, sans-serif";
const colLeft = [90.3, 488.7, 887.3];
const panelW = 342.7;
const rowTop = [52, 472.3];
const rowH = [320, 318.4];
const stripH = 44;
const JW = 0.2;   // jitter half-width (category units)
const BW = 0.375; // box half-width (category units)

function jitter(k) { return ((k + 1) * 0.6180339887) % 1 * 2 * JW - JW; }

function renderBox(params, api) {
  const x = api.value(0);
  const lw = api.value(1), q1 = api.value(2), md = api.value(3), q3 = api.value(4), hw = api.value(5);
  const tl = api.coord([x - BW, q3]);
  const br = api.coord([x + BW, q1]);
  const hi = api.coord([x, hw]);
  const lo = api.coord([x, lw]);
  const ml = api.coord([x - BW, md]);
  const mr = api.coord([x + BW, md]);
  const st = { stroke: '#7f7f7f', lineWidth: 2, fill: 'none' };
  return {
    type: 'group',
    children: [
      { type: 'line', shape: { x1: hi[0], y1: hi[1], x2: hi[0], y2: tl[1] }, style: st },
      { type: 'line', shape: { x1: lo[0], y1: br[1], x2: lo[0], y2: lo[1] }, style: st },
      { type: 'rect', shape: { x: tl[0], y: tl[1], width: br[0] - tl[0], height: br[1] - tl[1] }, style: st },
      { type: 'line', shape: { x1: ml[0], y1: ml[1], x2: mr[0], y2: mr[1] }, style: { stroke: '#7f7f7f', lineWidth: 4.5 } }
    ]
  };
}

const grids = [], xAxes = [], yAxes = [], series = [], graphics = [];

facetNames.forEach((name, f) => {
  const r = Math.floor(f / 3), c = f % 3;
  grids.push({ left: colLeft[c], top: rowTop[r], width: panelW, height: rowH[r], containLabel: false });
  xAxes.push({
    type: 'value', gridIndex: f, min: -0.6, max: 3.6,
    splitLine: { show: false },
    axisLine: { show: true, onZero: false, lineStyle: { color: '#000', width: 1.8 } },
    axisTick: { show: true, customValues: [0, 1, 2, 3], length: 6, lineStyle: { color: '#000', width: 1.6 } },
    axisLabel: { customValues: [0, 1, 2, 3], formatter: v => categories[Math.round(v)], color: '#000', fontSize: 28, fontFamily: FONT, margin: 10 }
  });
  yAxes.push({
    type: 'value', gridIndex: f, min: yLimits[f][0], max: yLimits[f][1],
    splitLine: { show: false },
    axisLine: { show: true, onZero: false, lineStyle: { color: '#000', width: 1.8 } },
    axisTick: { show: true, customValues: yTicks[f], length: 7, lineStyle: { color: '#000', width: 1.6 } },
    axisLabel: { customValues: yTicks[f], formatter: v => String(v), color: '#000', fontSize: 28, fontFamily: FONT, margin: 10 }
  });
  const pts = [];
  facetPoints[f].forEach((vals, g) => {
    vals.forEach((v, k) => pts.push([g + jitter(k), v]));
  });
  series.push({
    type: 'scatter', xAxisIndex: f, yAxisIndex: f, data: pts, symbol: 'circle', symbolSize: 10.5,
    itemStyle: { color: facetColors[f], opacity: 0.5, borderColor: facetColors[f], borderWidth: 0.8 },
    silent: true, z: 2, animation: false, large: false
  });
  series.push({
    type: 'custom', xAxisIndex: f, yAxisIndex: f,
    data: facetBoxes[f].map((b, g) => [g, b[0], b[1], b[2], b[3], b[4]]),
    encode: { x: 0, y: [1, 2, 3, 4, 5] },
    renderItem: renderBox, silent: true, z: 3, animation: false
  });
  graphics.push({
    type: 'rect', left: colLeft[c], top: rowTop[r] - stripH,
    shape: { x: 0, y: 0, width: panelW, height: stripH },
    style: { fill: '#dcdcfd', stroke: '#222', lineWidth: 1.5 }, z: 10
  });
  graphics.push({
    type: 'text', x: colLeft[c] + panelW / 2, y: rowTop[r] - stripH / 2,
    style: { text: name, fill: '#1a1a1a', font: '22px ' + FONT, align: 'center', verticalAlign: 'middle' }, z: 11
  });
});

graphics.push({
  type: 'text', x: 659.5, y: 851,
  style: { text: xTitle, fill: '#000', font: '29px ' + FONT, align: 'center', verticalAlign: 'middle' }
});
graphics.push({
  type: 'text', x: 27, y: 403, rotation: Math.PI / 2,
  style: { text: yTitle, fill: '#000', font: '32px ' + FONT, align: 'center', verticalAlign: 'middle' }
});

const chart = echarts.init(document.getElementById('c'), null, { renderer: 'canvas' });
chart.setOption({
  animation: false,
  backgroundColor: '#fff',
  grid: grids, xAxis: xAxes, yAxis: yAxes, series: series, graphic: graphics
});
</script>
</body></html>
